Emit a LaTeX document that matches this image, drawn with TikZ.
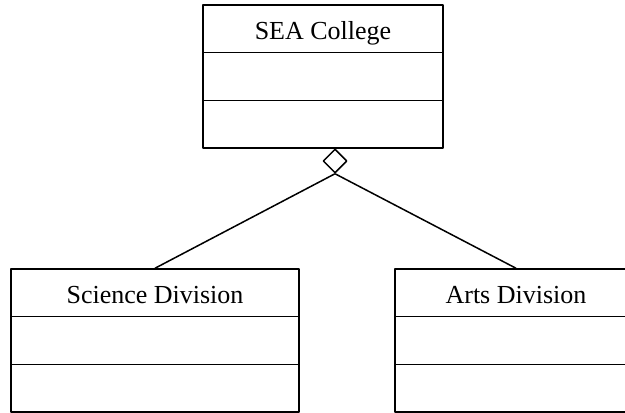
\documentclass[tikz,border=0pt]{standalone}
\usepackage{fontspec}
\setmainfont{Liberation Serif}
\usetikzlibrary{shapes.geometric,calc}
\tikzset{classbox/.style={draw,line width=1.5bp,inner sep=0pt,minimum height=143bp},
  classname/.style={font=\fontsize{26bp}{30bp}\selectfont,inner sep=0pt,anchor=base},
  aggdiamond/.style={draw,diamond,aspect=1,line width=1.5bp,inner sep=0pt,minimum width=24bp,minimum height=24bp}}
\begin{document}
\begin{tikzpicture}[line join=bevel,]
\useasboundingbox (0bp,0bp) rectangle (625bp,413bp);
\clip (0bp,0bp) rectangle (625bp,413bp);
%%
\node (node_sea) at (323.0bp,336.5bp) [classbox,minimum width=240bp] {};
  \node (node_sci) at (155.0bp,72.5bp) [classbox,minimum width=288bp] {};
  \node (node_arts) at (516.0bp,72.5bp) [classbox,minimum width=242bp] {};
  \node (name_sea) at ([yshift=-35bp]node_sea.north) [classname] {SEA College};
  \node (name_sci) at ([yshift=-35bp]node_sci.north) [classname] {Science Division};
  \node (name_arts) at ([yshift=-35bp]node_arts.north) [classname] {Arts Division};
%
\foreach \c in {node_sea,node_sci,node_arts} {
  \draw [line width=1.5bp] ($(\c.north west)!1/3!(\c.south west)$) -- ($(\c.north east)!1/3!(\c.south east)$);
  \draw [line width=1.5bp] ($(\c.north west)!2/3!(\c.south west)$) -- ($(\c.north east)!2/3!(\c.south east)$);
}
%
\node (node_agg) at (335.0bp,252.0bp) [aggdiamond] {};
  \draw [black,line width=1.5bp] (node_agg.south) -- (node_sci.north);
  \draw [black,line width=1.5bp] (node_agg.south) -- (node_arts.north);
%
\end{tikzpicture}
\end{document}
